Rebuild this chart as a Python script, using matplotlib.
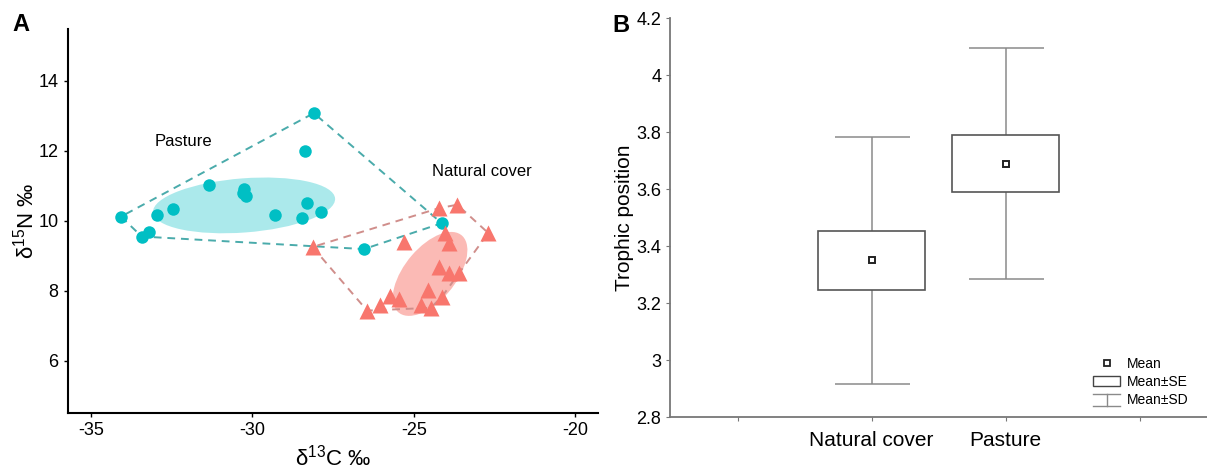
import numpy as np
import matplotlib
matplotlib.use('Agg')
import matplotlib.pyplot as plt
from matplotlib.patches import Ellipse, Patch
from matplotlib.lines import Line2D
from matplotlib.legend_handler import HandlerBase

plt.rcParams['font.family'] = ['Liberation Sans', 'DejaVu Sans']
plt.rcParams['axes.unicode_minus'] = False

# panel A: stable isotopes
pasture_c = [-28.10, -28.37, -31.35, -30.25, -30.30, -30.21, -28.32, -27.89, -28.48,
             -29.30, -32.47, -32.95, -34.07, -33.20, -33.43, -26.55, -24.14]
pasture_n = [13.08, 12.01, 11.01, 10.91, 10.79, 10.71, 10.52, 10.24, 10.09,
             10.17, 10.33, 10.17, 10.12, 9.68, 9.55, 9.19, 9.93]
natural_c = [-24.23, -23.66, -22.70, -28.14, -25.30, -24.03, -23.91, -24.22, -23.91,
             -23.61, -24.58, -24.14, -25.74, -25.46, -26.05, -26.45, -24.79, -24.48]
natural_n = [10.36, 10.46, 9.65, 9.25, 9.38, 9.65, 9.36, 8.69, 8.51,
             8.51, 8.03, 7.82, 7.84, 7.76, 7.60, 7.43, 7.60, 7.51]

# panel B: trophic position
groups = ['Natural cover', 'Pasture']
tp_mean = [3.35, 3.69]
tp_se = [0.103, 0.099]
tp_sd = [0.434, 0.405]

teal = '#00BFC4'
salmon = '#F8766D'


def hull(xs, ys):
    pts = sorted(set(zip(xs, ys)))

    def cross(o, a, b):
        return (a[0] - o[0]) * (b[1] - o[1]) - (a[1] - o[1]) * (b[0] - o[0])
    lower, upper = [], []
    for p in pts:
        while len(lower) >= 2 and cross(lower[-2], lower[-1], p) <= 0:
            lower.pop()
        lower.append(p)
    for p in reversed(pts):
        while len(upper) >= 2 and cross(upper[-2], upper[-1], p) <= 0:
            upper.pop()
        upper.append(p)
    h = lower[:-1] + upper[:-1]
    h.append(h[0])
    return [p[0] for p in h], [p[1] for p in h]


fig = plt.figure(figsize=(12.07, 4.72), dpi=100)
axA = fig.add_axes([0.0561, 0.125, 0.4394, 0.813])
axB = fig.add_axes([0.5555, 0.1165, 0.4445, 0.8447])

# ---- A ----
axA.add_patch(Ellipse((-30.26, 10.44), 5.65, 1.55, angle=4,
                      facecolor=teal, alpha=0.33, edgecolor='none', zorder=1))
axA.add_patch(Ellipse((-24.50, 8.48), 2.95, 1.55, angle=47,
                      facecolor=salmon, alpha=0.5, edgecolor='none', zorder=1))
hx, hy = hull(pasture_c, pasture_n)
axA.plot(hx, hy, ls=(0, (4, 3)), color='#4aabab', lw=1.4, zorder=2)
hx, hy = hull(natural_c, natural_n)
axA.plot(hx, hy, ls=(0, (4, 3)), color='#d08e8b', lw=1.4, zorder=2)
axA.plot(pasture_c, pasture_n, 'o', color=teal, ms=9, mec='none', zorder=3)
axA.plot(natural_c, natural_n, '^', color=salmon, ms=11, mec='none', zorder=3)

axA.text(-32.14, 12.27, 'Pasture', fontsize=12, ha='center', va='center')
axA.text(-22.91, 11.4, 'Natural cover', fontsize=12, ha='center', va='center')

axA.set_xlim(-35.72, -19.3)
axA.set_ylim(4.5, 15.48)
axA.set_xticks([-35, -30, -25, -20])
axA.set_yticks([6, 8, 10, 12, 14])
for s in ['top', 'right']:
    axA.spines[s].set_visible(False)
for s in ['left', 'bottom']:
    axA.spines[s].set_linewidth(1.5)
axA.tick_params(labelsize=13, length=3, width=1)
axA.set_xlabel(r'δ$^{\mathregular{13}}$C ‰', fontsize=16, labelpad=4)
axA.set_ylabel(r'δ$^{\mathregular{15}}$N ‰', fontsize=16, labelpad=0)

# ---- B ----
xpos = [1, 2]
gray = '#8a8a8a'
axB.errorbar(xpos, tp_mean, yerr=tp_sd, fmt='none', ecolor=gray, elinewidth=1.1,
             capsize=27, capthick=1.1, zorder=1)
axB.bar(xpos, [2 * s for s in tp_se], bottom=[m - s for m, s in zip(tp_mean, tp_se)],
        width=0.8, facecolor='white', edgecolor='#555555', linewidth=1.2, zorder=2)
axB.plot(xpos, tp_mean, 's', mfc='white', mec='#222222', mew=1.4, ms=5, zorder=3)

axB.set_xlim(-0.5, 3.5)
axB.set_ylim(2.8, 4.2)
axB.set_xticks([0, 1, 2, 3])
axB.set_xticklabels(['', groups[0], groups[1], ''])
axB.set_yticks(np.arange(2.8, 4.21, 0.2))
axB.set_yticklabels(['%g' % round(v, 1) for v in np.arange(2.8, 4.21, 0.2)])
for s in ['top', 'right']:
    axB.spines[s].set_visible(False)
for s in ['left', 'bottom']:
    axB.spines[s].set_color('#777777')
    axB.spines[s].set_linewidth(1.3)
axB.tick_params(axis='y', labelsize=13, length=3, color='#777777')
axB.tick_params(axis='x', labelsize=15, length=3, color='#777777', pad=7)
axB.set_ylabel('Trophic position', fontsize=15, labelpad=2)


class SDHandler(HandlerBase):
    def create_artists(self, legend, orig_handle, xdescent, ydescent, width, height,
                       fontsize, trans):
        x0 = -xdescent
        x1 = x0 + width
        xm = (x0 + x1) / 2
        y0 = -ydescent - 0.15 * height
        y1 = -ydescent + 1.05 * height
        arts = [Line2D([x0, x1], [y1, y1]), Line2D([xm, xm], [y0, y1]),
                Line2D([x0, x1], [y0, y0])]
        for a in arts:
            a.set_color(gray)
            a.set_linewidth(1)
            a.set_transform(trans)
        return arts


h_mean = Line2D([], [], ls='none', marker='s', mfc='white', mec='#222222', mew=1.3, ms=5)
h_se = Patch(facecolor='white', edgecolor='#444444', linewidth=1)
h_sd = Line2D([], [])
axB.legend([h_mean, h_se, h_sd], ['Mean', 'Mean±SE', 'Mean±SD'],
           handler_map={h_sd: SDHandler()}, loc='lower left',
           bbox_to_anchor=(0.77, 0.0), frameon=False, fontsize=10,
           handlelength=1.9, handletextpad=0.5, labelspacing=0.3, borderpad=0.2)

fig.text(0.010, 1 - 31 / 472, 'A', fontsize=17, fontweight='bold', va='baseline')
fig.text(0.507, 1 - 32 / 472, 'B', fontsize=17, fontweight='bold', va='baseline')

fig.savefig('out.png', dpi=100)
